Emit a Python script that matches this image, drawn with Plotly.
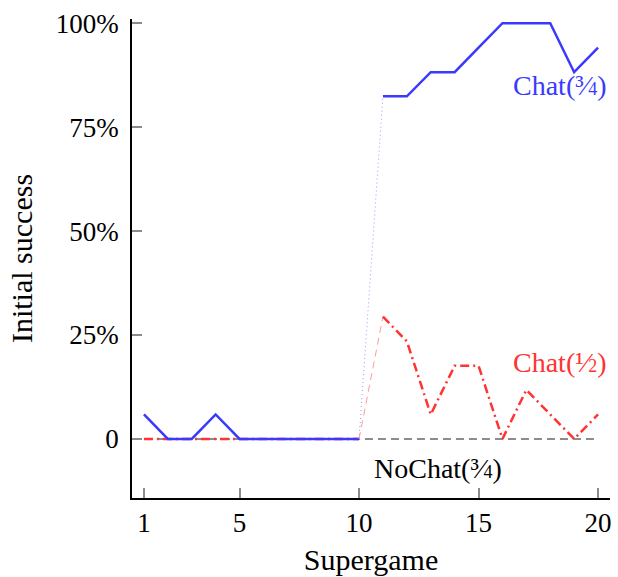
import plotly.graph_objects as go

# Share of groups reaching initial success, per supergame
supergame = [1, 2, 3, 4, 5, 6, 7, 8, 9, 10, 11, 12, 13, 14, 15, 16, 17, 18, 19, 20]
chat_34 = [0.059, 0, 0, 0.059, 0, 0, 0, 0, 0, 0,
           0.824, 0.824, 0.882, 0.882, 0.941, 1.0, 1.0, 1.0, 0.882, 0.941]
chat_12 = [0, 0, 0, 0, 0, 0, 0, 0, 0, 0,
           0.294, 0.235, 0.059, 0.176, 0.176, 0, 0.118, 0.059, 0, 0.059]
nochat_34 = [0] * 20

y_ticks = [0, 0.25, 0.5, 0.75, 1.0]
y_tick_text = ["0", "25%", "50%", "75%", "100%"]
x_ticks = [1, 5, 10, 15, 20]

BLUE = "#3a3aff"
RED = "#ff3333"
GRAY = "#8c8c8c"
FONT = "Liberation Serif"


def frac(num, den):
    return f"{num}⁄<span style='font-size:18px'>{den}</span>"


split = 10  # chat introduced after supergame 10

fig = go.Figure()

# NoChat baseline
fig.add_trace(go.Scatter(x=supergame, y=nochat_34, mode="lines",
                         line=dict(color=GRAY, width=2, dash="8px,5px")))

# Chat(1/2): before, bridge, after
fig.add_trace(go.Scatter(x=supergame[:split], y=chat_12[:split], mode="lines",
                         line=dict(color=RED, width=2.5, dash="9px,4px,2px,4px")))
fig.add_trace(go.Scatter(x=supergame[split - 1:split + 1], y=chat_12[split - 1:split + 1],
                         mode="lines", line=dict(color="#ff9a9a", width=1, dash="7px,5px")))
fig.add_trace(go.Scatter(x=supergame[split:], y=chat_12[split:], mode="lines",
                         line=dict(color=RED, width=2.5, dash="9px,4px,2px,4px")))

# Chat(3/4): before, bridge, after
fig.add_trace(go.Scatter(x=supergame[:split], y=chat_34[:split], mode="lines",
                         line=dict(color=BLUE, width=2.5)))
fig.add_trace(go.Scatter(x=supergame[split - 1:split + 1], y=chat_34[split - 1:split + 1],
                         mode="lines", line=dict(color="#9a9aff", width=1, dash="1px,3px")))
fig.add_trace(go.Scatter(x=supergame[split:], y=chat_34[split:], mode="lines",
                         line=dict(color=BLUE, width=2.5)))

fig.add_annotation(x=20.45, y=0.851, text="Chat(" + frac("³", "4") + ")", showarrow=False,
                   xanchor="right", font=dict(family=FONT, size=28, color=BLUE))
fig.add_annotation(x=20.45, y=0.183, text="Chat(" + frac("¹", "2") + ")", showarrow=False,
                   xanchor="right", font=dict(family=FONT, size=28, color=RED))
fig.add_annotation(x=13.3, y=-0.07, text="NoChat(" + frac("³", "4") + ")", showarrow=False,
                   font=dict(family=FONT, size=28, color="black"))

fig.update_layout(
    width=618, height=577,
    margin=dict(l=132, r=6, t=19, b=79),
    paper_bgcolor="white", plot_bgcolor="white",
    showlegend=False,
    font=dict(family=FONT, size=25, color="black"),
    xaxis=dict(range=[0.5, 20.5], tickvals=x_ticks, showgrid=False, zeroline=False,
               showline=True, linecolor="black", linewidth=1.5,
               ticks="inside", ticklen=10, tickcolor=GRAY, tickwidth=1.5,
               tickfont=dict(family=FONT, size=27, color="black"),
               title=dict(text="Supergame", standoff=12)),
    yaxis=dict(range=[-0.142, 1.01], tickvals=y_ticks, ticktext=y_tick_text,
               showgrid=False, zeroline=False,
               showline=True, linecolor="black", linewidth=1.5,
               ticks="inside", ticklen=10, tickcolor=GRAY, tickwidth=1.5,
               tickfont=dict(family=FONT, size=27, color="black"), ticklabelstandoff=6,
               title=dict(text="Initial success", standoff=14)),
)

fig.write_html("out.html")
